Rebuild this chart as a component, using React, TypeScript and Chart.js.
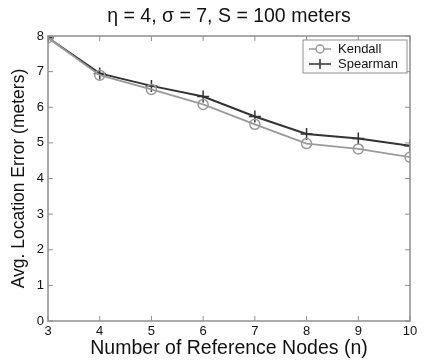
import React, { useEffect, useRef } from "react";
import { Chart, registerables } from "chart.js";

Chart.register(...registerables);

const nodes = [3, 4, 5, 6, 7, 8, 9, 10];
const kendall = [7.95, 6.9, 6.5, 6.08, 5.52, 4.98, 4.83, 4.6];
const spearman = [7.95, 6.95, 6.6, 6.3, 5.74, 5.25, 5.12, 4.92];
const yTicks = [0, 1, 2, 3, 4, 5, 6, 7, 8];

const titleText = "η = 4, σ = 7, S = 100 meters";
const xTitle = "Number of Reference Nodes (n)";
const yTitle = "Avg. Location Error (meters)";
const seriesNames = ["Kendall", "Spearman"];
const seriesColors = ["#9a9a9a", "#333333"];

const FONT = "'Liberation Sans', Arial, Helvetica, sans-serif";

const boxPlugin = {
  id: "matlabBox",
  afterDatasetsDraw(chart: any) {
    const { ctx, chartArea: a, scales } = chart;
    const xs = scales.x;
    const ys = scales.y;
    ctx.save();
    ctx.strokeStyle = "#8f8f8f";
    ctx.lineWidth = 1.5;
    ctx.strokeRect(a.left, a.top, a.right - a.left, a.bottom - a.top);
    ctx.lineWidth = 1;
    const tl = 5;
    ctx.beginPath();
    nodes.forEach((v) => {
      const px = xs.getPixelForValue(v);
      ctx.moveTo(px, a.bottom);
      ctx.lineTo(px, a.bottom - tl);
      ctx.moveTo(px, a.top);
      ctx.lineTo(px, a.top + tl);
    });
    yTicks.forEach((v) => {
      const py = ys.getPixelForValue(v);
      ctx.moveTo(a.left, py);
      ctx.lineTo(a.left + tl, py);
      ctx.moveTo(a.right, py);
      ctx.lineTo(a.right - tl, py);
    });
    ctx.stroke();

    // legend
    const lx = a.right - 107;
    const ly = a.top + 4;
    const lw = 104;
    const lh = 33;
    ctx.fillStyle = "#ffffff";
    ctx.fillRect(lx, ly, lw, lh);
    ctx.strokeStyle = "#8f8f8f";
    ctx.lineWidth = 1;
    ctx.strokeRect(lx, ly, lw, lh);
    seriesNames.forEach((name, i) => {
      const yy = ly + 9 + i * 15;
      ctx.strokeStyle = seriesColors[i];
      ctx.lineWidth = 1.5;
      ctx.beginPath();
      ctx.moveTo(lx + 6, yy);
      ctx.lineTo(lx + 28, yy);
      ctx.stroke();
      if (i === 0) {
        ctx.beginPath();
        ctx.arc(lx + 17, yy, 4, 0, Math.PI * 2);
        ctx.fillStyle = "#ffffff";
        ctx.fill();
        ctx.stroke();
      } else {
        ctx.beginPath();
        ctx.moveTo(lx + 17, yy - 5);
        ctx.lineTo(lx + 17, yy + 5);
        ctx.stroke();
      }
      ctx.fillStyle = "#111111";
      ctx.font = "13px " + FONT;
      ctx.textBaseline = "middle";
      ctx.textAlign = "left";
      ctx.fillText(name, lx + 35, yy);
    });
    ctx.restore();
  },
};

export default function App() {
  const ref = useRef<HTMLCanvasElement | null>(null);
  useEffect(() => {
    document.body.style.margin = "0";
    const chart = new Chart(ref.current as HTMLCanvasElement, {
      type: "line",
      data: {
        datasets: [
          {
            label: seriesNames[0],
            data: nodes.map((x, i) => ({ x, y: kendall[i] })),
            borderColor: seriesColors[0],
            backgroundColor: "rgba(255,255,255,0)",
            borderWidth: 1.8,
            pointStyle: "circle",
            pointRadius: 5,
            pointBorderWidth: 1.5,
            pointBorderColor: seriesColors[0],
            pointBackgroundColor: "rgba(255,255,255,0)",
          },
          {
            label: seriesNames[1],
            data: nodes.map((x, i) => ({ x, y: spearman[i] })),
            borderColor: seriesColors[1],
            backgroundColor: seriesColors[1],
            borderWidth: 2,
            pointStyle: "cross",
            pointRadius: 6,
            pointBorderWidth: 1.5,
            pointBorderColor: seriesColors[1],
          },
        ],
      },
      options: {
        animation: false,
        responsive: false,
        layout: { padding: { left: 0, right: 15, top: 0, bottom: 0 } },
        plugins: {
          legend: { display: false },
          tooltip: { enabled: false },
          title: {
            display: true,
            fullSize: false,
            text: titleText,
            color: "#111111",
            font: { family: FONT, size: 19.5, weight: "normal" },
            padding: { top: 5, bottom: 7.6 },
          },
        },
        scales: {
          x: {
            type: "linear",
            min: 3,
            max: 10,
            afterBuildTicks: (s: any) => {
              s.ticks = nodes.map((v) => ({ value: v }));
            },
            afterFit: (s: any) => {
              s.height = 42;
            },
            grid: { display: false, drawTicks: false },
            border: { display: false },
            ticks: {
              padding: 3,
              color: "#111111",
              font: { family: FONT, size: 13 },
              maxRotation: 0,
            },
            title: {
              display: true,
              text: xTitle,
              color: "#111111",
              font: { family: FONT, size: 19.5 },
              padding: { top: 0, bottom: 3 },
            },
          },
          y: {
            type: "linear",
            min: 0,
            max: 8,
            afterBuildTicks: (s: any) => {
              s.ticks = yTicks.map((v) => ({ value: v }));
            },
            afterFit: (s: any) => {
              s.width = 48;
            },
            grid: { display: false, drawTicks: false },
            border: { display: false },
            ticks: {
              padding: 4,
              color: "#111111",
              font: { family: FONT, size: 13 },
            },
            title: {
              display: true,
              text: yTitle,
              color: "#111111",
              font: { family: FONT, size: 17.5 },
              padding: { top: 9, bottom: 0 },
            },
          },
        },
      },
      plugins: [boxPlugin],
    } as any);
    return () => chart.destroy();
  }, []);
  return (
    <div style={{ width: 425, height: 363, background: "#ffffff" }}>
      <canvas ref={ref} width={425} height={363} style={{ display: "block" }} />
    </div>
  );
}
